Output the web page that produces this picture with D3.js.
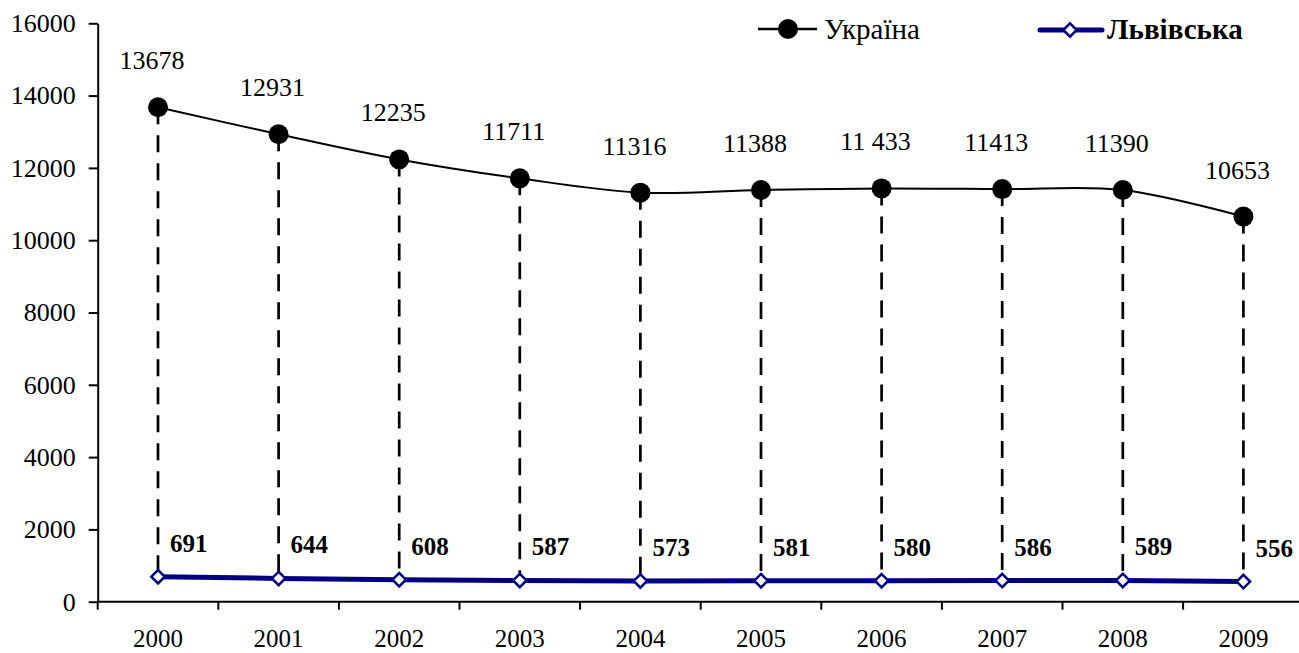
<!DOCTYPE html>
<html>
<head>
<meta charset="utf-8">
<script src="https://cdn.jsdelivr.net/npm/d3@7"></script>
<style>
  html, body { margin: 0; padding: 0; background: #fff; }
  svg { display: block; }
  svg text { font-family: "Liberation Serif", "Tinos", "Times New Roman", "DejaVu Serif", serif !important; }
</style>
</head>
<body>
<svg id="chart" width="1299" height="653"></svg>
<script>
// Years on the category axis
const years = ["2000", "2001", "2002", "2003", "2004", "2005", "2006", "2007", "2008", "2009"];
// Україна series
const ukraine = [13678, 12931, 12235, 11711, 11316, 11388, 11433, 11413, 11390, 10653];
const ukraineLabels = ["13678", "12931", "12235", "11711", "11316", "11388", "11 433", "11413", "11390", "10653"];
// Львівська series
const lviv = [691, 644, 608, 587, 573, 581, 580, 586, 589, 556];
// Value axis ticks
const yTicks = [0, 2000, 4000, 6000, 8000, 10000, 12000, 14000, 16000];

const seriesNames = ["Україна", "Львівська"];

const serif = '"Liberation Serif", "Tinos", "Times New Roman", "DejaVu Serif", serif';
const svg = d3.select("#chart");
const plotLeft = 97.7, plotRight = 1303.7, plotTop = 23.3, plotBottom = 601.7;

const x = d3.scaleBand().domain(years).range([plotLeft, plotRight]).padding(0);
const y = d3.scaleLinear().domain([0, 16000]).range([plotBottom, plotTop]);
const cx = d => x(d) + x.bandwidth() / 2;

// Value axis
const yAxis = svg.append("g")
  .attr("transform", `translate(${plotLeft},0)`)
  .call(d3.axisLeft(y).tickValues(yTicks).tickFormat(d3.format("d"))
    .tickSize(9).tickPadding(13).tickSizeOuter(0));
yAxis.attr("font-family", null).attr("font-size", null);
yAxis.select(".domain").attr("stroke", "#000").attr("stroke-width", 2);
yAxis.selectAll(".tick line").attr("stroke", "#000").attr("stroke-width", 2);
yAxis.selectAll(".tick text").attr("font-size", 26).style("font-family", serif).attr("fill", "#000");

// Category axis: tick marks sit on band boundaries, labels in band centres
const xg = svg.append("g");
xg.append("line")
  .attr("x1", plotLeft).attr("x2", plotRight)
  .attr("y1", plotBottom).attr("y2", plotBottom)
  .attr("stroke", "#000").attr("stroke-width", 2);
const bounds = years.map(d => x(d)).concat([x(years[years.length - 1]) + x.bandwidth()]);
xg.selectAll("line.tk").data(bounds).enter().append("line")
  .attr("class", "tk")
  .attr("x1", d => d).attr("x2", d => d)
  .attr("y1", plotBottom).attr("y2", plotBottom + 8)
  .attr("stroke", "#000").attr("stroke-width", 2);
xg.selectAll("text").data(years).enter().append("text")
  .attr("x", d => cx(d)).attr("y", 647)
  .attr("text-anchor", "middle")
  .attr("font-size", 25).style("font-family", serif)
  .text(d => d);

// Dashed drop lines between the two series
svg.append("g").selectAll("line").data(years).enter().append("line")
  .attr("x1", d => cx(d)).attr("x2", d => cx(d))
  .attr("y1", (d, i) => y(ukraine[i])).attr("y2", (d, i) => y(lviv[i]))
  .attr("stroke", "#000").attr("stroke-width", 2.7)
  .attr("stroke-dasharray", "17,11");

// Україна smoothed line
const lineU = d3.line().x((d, i) => cx(years[i])).y(d => y(d)).curve(d3.curveCatmullRom.alpha(0));
svg.append("path").datum(ukraine)
  .attr("d", lineU).attr("fill", "none").attr("stroke", "#000").attr("stroke-width", 2);
svg.append("g").selectAll("circle").data(ukraine).enter().append("circle")
  .attr("cx", (d, i) => cx(years[i])).attr("cy", d => y(d)).attr("r", 10).attr("fill", "#000");
svg.append("g").selectAll("text").data(ukraine).enter().append("text")
  .attr("x", (d, i) => cx(years[i]) - 6).attr("y", d => y(d) - 38)
  .attr("text-anchor", "middle").attr("font-size", 26).style("font-family", serif)
  .text((d, i) => ukraineLabels[i]);

// Львівська line
const lineL = d3.line().x((d, i) => cx(years[i])).y(d => y(d));
svg.append("path").datum(lviv)
  .attr("d", lineL).attr("fill", "none").attr("stroke", "#000080").attr("stroke-width", 5);
const diamond = d3.symbol().type(d3.symbolDiamond2).size(115);
svg.append("g").selectAll("path").data(lviv).enter().append("path")
  .attr("d", diamond)
  .attr("transform", (d, i) => `translate(${cx(years[i])},${y(d)})`)
  .attr("fill", "#fff").attr("stroke", "#000080").attr("stroke-width", 2.5);
svg.append("g").selectAll("text").data(lviv).enter().append("text")
  .attr("x", (d, i) => cx(years[i]) + 12).attr("y", d => y(d) - 25)
  .attr("font-size", 25).attr("font-weight", "bold").style("font-family", serif)
  .text(d => d);

// Legend
const leg = svg.append("g");
leg.append("line").attr("x1", 758).attr("x2", 817).attr("y1", 29).attr("y2", 29)
  .attr("stroke", "#000").attr("stroke-width", 2.5);
leg.append("circle").attr("cx", 788).attr("cy", 29).attr("r", 10).attr("fill", "#000");
leg.append("text").attr("x", 824).attr("y", 39).attr("font-size", 29).style("font-family", serif)
  .text(seriesNames[0]);

leg.append("line").attr("x1", 1040).attr("x2", 1102).attr("y1", 30).attr("y2", 30)
  .attr("stroke", "#000080").attr("stroke-width", 5).attr("stroke-linecap", "round");
leg.append("path").attr("d", diamond).attr("transform", "translate(1070,30)")
  .attr("fill", "#fff").attr("stroke", "#000080").attr("stroke-width", 2.5);
leg.append("text").attr("x", 1107).attr("y", 39).attr("font-size", 29).attr("font-weight", "bold")
  .style("font-family", serif).text(seriesNames[1]);
</script>
</body>
</html>
